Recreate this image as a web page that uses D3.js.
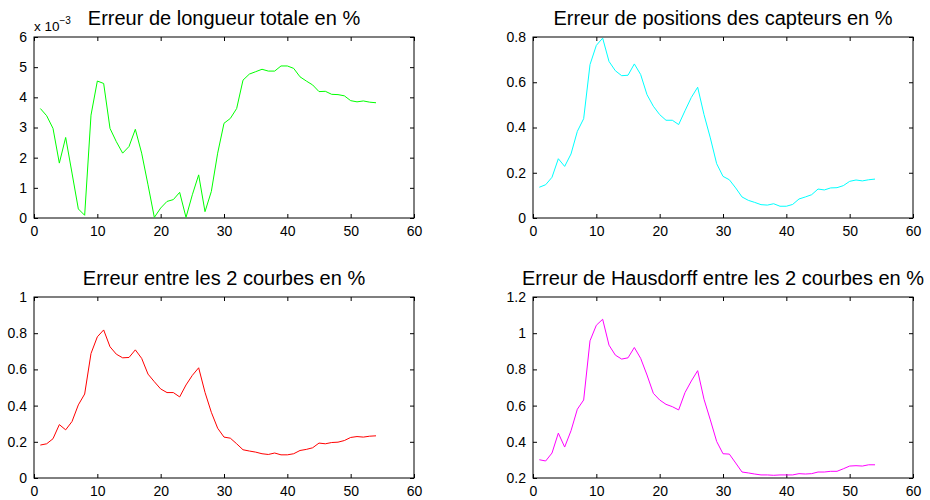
<!DOCTYPE html>
<html>
<head>
<meta charset="utf-8">
<script src="https://cdn.jsdelivr.net/npm/d3@7"></script>
<style>
  body { margin: 0; background: #fff; }
  svg text { font-family: "Liberation Sans", Arial, sans-serif; fill: #000; }
</style>
</head>
<body>
<div id="wrapper"></div>
<script>
// x values are just the sample index 1..54
const xIndex = d3.range(1, 55);

// longueur totale (x 1e-3)
const longueurValues = [3.63, 3.39, 2.97, 1.82, 2.67, 1.49, 0.30, 0.09, 3.41, 4.54,
  4.46, 2.97, 2.53, 2.15, 2.37, 2.94, 2.15, 1.10, 0.02, 0.33,
  0.55, 0.61, 0.85, 0.02, 0.77, 1.43, 0.21, 0.88, 2.15, 3.14,
  3.30, 3.63, 4.57, 4.77, 4.85, 4.93, 4.87, 4.87, 5.04, 5.04,
  4.96, 4.68, 4.54, 4.41, 4.19, 4.20, 4.10, 4.09, 4.05, 3.89,
  3.85, 3.88, 3.84, 3.82];

const capteursValues = [0.136, 0.147, 0.180, 0.262, 0.228, 0.283, 0.383, 0.439, 0.678, 0.763,
  0.795, 0.692, 0.651, 0.629, 0.631, 0.681, 0.634, 0.545, 0.494, 0.457,
  0.432, 0.432, 0.413, 0.474, 0.533, 0.578, 0.457, 0.354, 0.240, 0.184,
  0.169, 0.133, 0.093, 0.078, 0.069, 0.059, 0.057, 0.063, 0.052, 0.052,
  0.060, 0.084, 0.093, 0.103, 0.128, 0.124, 0.133, 0.134, 0.143, 0.162,
  0.168, 0.164, 0.169, 0.172];

const courbesValues = [0.182, 0.189, 0.217, 0.295, 0.266, 0.312, 0.404, 0.464, 0.688, 0.780,
  0.818, 0.725, 0.684, 0.664, 0.666, 0.708, 0.661, 0.574, 0.532, 0.492,
  0.472, 0.472, 0.448, 0.514, 0.567, 0.609, 0.473, 0.363, 0.275, 0.226,
  0.220, 0.189, 0.156, 0.149, 0.143, 0.134, 0.130, 0.138, 0.128, 0.128,
  0.134, 0.152, 0.158, 0.167, 0.193, 0.189, 0.196, 0.198, 0.207, 0.224,
  0.229, 0.226, 0.231, 0.233];

const hausdorffValues = [0.301, 0.294, 0.338, 0.448, 0.371, 0.461, 0.580, 0.631, 0.958, 1.044,
  1.077, 0.934, 0.879, 0.857, 0.864, 0.921, 0.861, 0.769, 0.668, 0.631,
  0.607, 0.594, 0.576, 0.672, 0.736, 0.793, 0.635, 0.521, 0.402, 0.334,
  0.332, 0.283, 0.233, 0.228, 0.222, 0.217, 0.217, 0.215, 0.217, 0.217,
  0.217, 0.224, 0.222, 0.224, 0.233, 0.233, 0.237, 0.237, 0.251, 0.266,
  0.268, 0.266, 0.273, 0.273];

const titles = [
  "Erreur de longueur totale en %",
  "Erreur de positions des capteurs en %",
  "Erreur entre les 2 courbes en %",
  "Erreur de Hausdorff entre les 2 courbes en %"
];

const xTicks = [0, 10, 20, 30, 40, 50, 60];
const yTicks1 = [0, 1, 2, 3, 4, 5, 6];
const yTicks2 = [0, 0.2, 0.4, 0.6, 0.8];
const yTicks3 = [0, 0.2, 0.4, 0.6, 0.8, 1];
const yTicks4 = [0.2, 0.4, 0.6, 0.8, 1, 1.2];

const panels = [
  {title: titles[0], values: longueurValues, yTicks: yTicks1, color: "#00ff00", col: 0, row: 0, exp: true},
  {title: titles[1], values: capteursValues, yTicks: yTicks2, color: "#00ffff", col: 1, row: 0},
  {title: titles[2], values: courbesValues, yTicks: yTicks3, color: "#ff0000", col: 0, row: 1},
  {title: titles[3], values: hausdorffValues, yTicks: yTicks4, color: "#ff00ff", col: 1, row: 1}
];

const width = 930, height = 500;
const svg = d3.select("#wrapper").append("svg")
  .attr("width", width).attr("height", height);

const colLeft = [34, 533];
const rowTop = [37, 297];
const plotW = 380, plotH = 181;
const tickLen = 4;

panels.forEach(p => {
  const g = svg.append("g")
    .attr("transform", `translate(${colLeft[p.col]},${rowTop[p.row]})`);

  const xScale = d3.scaleLinear().domain([0, 60]).range([0, plotW]);
  const yScale = d3.scaleLinear()
    .domain([p.yTicks[0], p.yTicks[p.yTicks.length - 1]])
    .range([plotH, 0]);

  const fmt = d => String(+d.toFixed(2));

  // bottom & left axes with inward ticks
  g.append("g").attr("transform", `translate(0,${plotH})`)
    .call(d3.axisBottom(xScale).tickValues(xTicks).tickSizeInner(-tickLen).tickSizeOuter(0).tickPadding(8).tickFormat(fmt));
  g.append("g")
    .call(d3.axisLeft(yScale).tickValues(p.yTicks).tickSizeInner(-tickLen).tickSizeOuter(0).tickPadding(7).tickFormat(fmt));
  // top & right ticks without labels
  g.append("g")
    .call(d3.axisTop(xScale).tickValues(xTicks).tickSizeInner(-tickLen).tickSizeOuter(0).tickFormat(""));
  g.append("g").attr("transform", `translate(${plotW},0)`)
    .call(d3.axisRight(yScale).tickValues(p.yTicks).tickSizeInner(-tickLen).tickSizeOuter(0).tickFormat(""));

  g.selectAll(".domain").remove();
  g.selectAll(".tick line").attr("stroke", "#000");
  g.selectAll(".tick text").style("font-size", "14px").attr("fill", "#000");

  g.append("rect")
    .attr("width", plotW).attr("height", plotH)
    .attr("fill", "none").attr("stroke", "#000").attr("stroke-width", 1);

  const line = d3.line()
    .x((d, i) => xScale(xIndex[i]))
    .y(d => yScale(d));

  g.append("path")
    .datum(p.values)
    .attr("d", line)
    .attr("fill", "none")
    .attr("stroke", p.color)
    .attr("stroke-width", 1);

  g.append("text")
    .attr("x", plotW / 2).attr("y", -12)
    .attr("text-anchor", "middle")
    .style("font-size", "20px")
    .text(p.title);

  if (p.exp) {
    const t = g.append("text").attr("x", 0).attr("y", -6).style("font-size", "13.5px");
    t.append("tspan").text("x 10");
    t.append("tspan").attr("dy", -7).style("font-size", "10px").text("\u22123");
  }
});
</script>
</body>
</html>
